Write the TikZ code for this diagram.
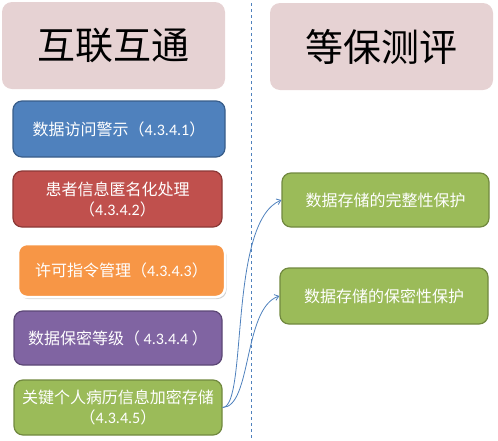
\documentclass[tikz,border=0pt]{standalone}
\usepackage{fontspec}
\setmainfont{Noto Sans CJK SC}
\newfontfamily\numfont{Carlito}
\usetikzlibrary{arrows.meta,shadows}
\definecolor{hdr}{RGB}{230,210,211}
\definecolor{cblue}{RGB}{79,129,189}
\definecolor{cbluedk}{RGB}{56,93,138}
\definecolor{cred}{RGB}{192,80,77}
\definecolor{creddk}{RGB}{140,56,54}
\definecolor{corange}{RGB}{247,150,70}
\definecolor{cpurple}{RGB}{128,100,162}
\definecolor{cpurpledk}{RGB}{92,71,118}
\definecolor{cgreen}{RGB}{155,187,89}
\definecolor{cgreendk}{RGB}{113,137,63}
\newcommand\nm[1]{{\numfont #1}}
\tikzset{
  x=1pt,y=-1pt,
  hbox/.style={rounded corners=10pt, fill=hdr, minimum width=223pt, minimum height=87pt, inner sep=0pt, font=\fontsize{38}{40}\selectfont},
  cbox/.style={rounded corners=9pt, line width=1.2pt, text=white, align=center, inner sep=0pt, font=\fontsize{16}{20}\selectfont},
  conn/.style={cblue, line width=0.8pt, -{Straight Barb[length=4pt,width=6pt]}}
}
\begin{document}
\begin{tikzpicture}
\useasboundingbox (0,0) rectangle (498,440);
\node[hbox] (h1) at (113.5,45.5) {互联互通};
\node[hbox] (h2) at (381.5,46.5) {等保测评};
\coordinate (dtop) at (251,3);
\coordinate (dbot) at (251,440);
\draw[cblue, line width=0.9pt, dash pattern=on 3pt off 3pt] (dtop) -- (dbot);
\node[cbox, fill=cblue, draw=cbluedk, minimum width=212pt, minimum height=56pt] (b1) at (119,129) {数据访问警示（\nm{4.3.4.1}）};
\node[cbox, fill=cred, draw=creddk, minimum width=209pt, minimum height=56pt] (b2) at (117.5,199) {患者信息匿名化处理\\（\nm{4.3.4.2}）};
\node[cbox, fill=corange, draw=white, line width=2.5pt, minimum width=207pt, minimum height=53pt, drop shadow={opacity=0.35, shadow xshift=1.5pt, shadow yshift=-2pt, fill=gray}] (b3) at (121.5,270.5) {许可指令管理（\nm{4.3.4.3}）};
\node[cbox, fill=cpurple, draw=cpurpledk, minimum width=208pt, minimum height=54pt] (b4) at (118,338) {数据保密等级（ \nm{4.3.4.4} ）};
\node[cbox, fill=cgreen, draw=cgreendk, minimum width=208pt, minimum height=55pt] (b5) at (118,407.5) {关键个人病历信息加密存储\\（\nm{4.3.4.5}）};
\node[cbox, fill=cgreen, draw=cgreendk, minimum width=207pt, minimum height=54pt] (r1) at (385.5,200) {数据存储的完整性保护};
\node[cbox, fill=cgreen, draw=cgreendk, minimum width=208pt, minimum height=56pt] (r2) at (384,296) {数据存储的保密性保护};
\draw[conn] (b5.east) .. controls (248,407) and (228,222) .. (r1.west);
\draw[conn] (b5.east) .. controls (252,407) and (243,308) .. (r2.west);
\end{tikzpicture}
\end{document}
